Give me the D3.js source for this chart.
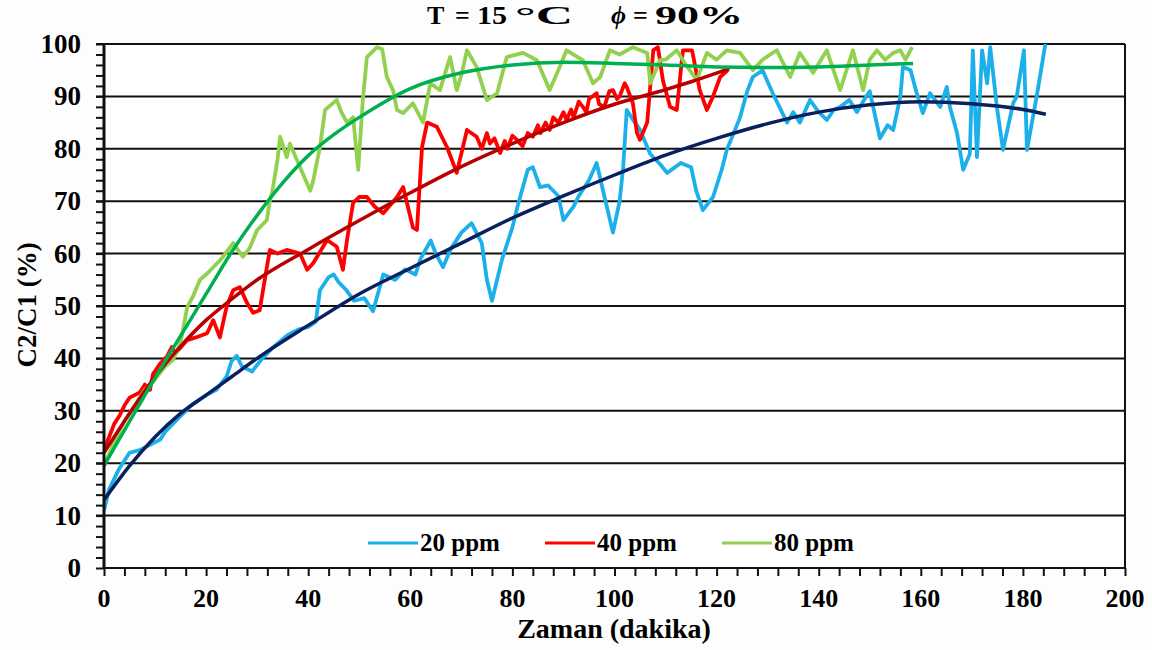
<!DOCTYPE html>
<html><head><meta charset="utf-8">
<script src="https://cdn.jsdelivr.net/npm/d3@7"></script>
<style>body{margin:0;background:#fff}svg{display:block}</style>
</head><body><svg id="c" width="1152" height="650" font-family="'Liberation Serif', 'Times New Roman', Tinos, serif" font-weight="bold"></svg>
<script>
// ---- data ----
const xTicks = [0,20,40,60,80,100,120,140,160,180,200];
const yTicks = [0,10,20,30,40,50,60,70,80,90,100];
const seriesNames = ["20 ppm","40 ppm","80 ppm"];

const t20 = [0,1,3,5,7,9,11,12,14,17,20,22,24,25,26,27,29,31,33,36,38,40,41.5,42.3,44,45,46,47.5,49,51,52.7,54.7,57,59,61,62,64,65,66.4,68,70,72,74,75,76,77,78,80,81,83,84,85.4,87,89,90,92,93,95,96.5,98,99.7,101,101.7,102.4,104,105,107,109,110.3,113,115,116,117.3,119.3,121,122,124.6,126,127.1,129,131,133.8,135,136.3,138.3,140,141.6,143,144.2,146,147.5,149,150,152,153.5,154.6,156,156.5,158,159.2,160.4,161.8,163.8,165.1,165.7,167.1,168.3,169.6,170.2,171,172,173,173.6,174.9,176.1,178.1,178.8,180.2,180.8,182.7,184.4];
const v20 = [11,15,19,22,22.5,23.5,24.5,26,28,31,33,34,36.5,39.5,40.5,38.5,37.5,40,42,44.5,45.5,46,47,53,55.5,56,54.5,53,51,51.5,49,56,55,57,56,59,62.5,60,57.4,61,64,65.8,62,55,51,55,59,65,69,76,76.5,72.7,73,71,66.4,69,71,74,77.3,71,64,70,76.5,87.4,85,83.6,79,77,75.4,77.3,76.5,72,68.3,70.8,76,79.8,86,91,93.7,95,90.6,85,87,85,89.3,87,85.5,87.5,88,89.3,87,89.5,91,82,84.5,83.6,90,95.6,95,90.6,86.8,90.6,88,91.8,88,83,76,79,98.8,78.4,98.8,92.5,99.4,88,79.8,88.7,90,98.8,79.8,90,100];

const t40 = [0,1,2,3,4,5,6,7,8,9,9.6,11,12.3,13.3,14,16.3,18,20.2,21.4,22.7,24,25.3,26.6,28,29.2,30.5,31.9,32.5,34,35.8,38.4,39.8,41,43.7,45.6,46.8,47.6,48.8,50,51.5,53,54.7,57.4,58.6,60.5,61.3,62.3,63.3,65.2,67.2,69.1,71.1,73,74,75,75.6,76.5,77.6,78.5,79,80,80.9,82,83,84,85,85.5,86.5,87.3,88,89,90,90.6,91.5,92,93,93.8,94.5,95,96.5,97,98,99,99.7,100.5,101,102,102.4,103.6,104.4,105,106.4,107.6,108.5,109.5,110.9,112.2,113.4,115.2,116.7,118.1,119.3,120.7,122.2];
const v40 = [22.5,25,27.5,29,31,32.5,33,33.5,35,34,37,39,40.3,42.2,41,43.5,44,44.8,47.3,44,49.8,53,53.6,50.6,48.7,49.2,57.4,60.7,60,60.7,60,56.9,58.2,62.6,61.3,56.9,62.6,69.7,70.8,70.8,69,67.7,70.8,72.7,65,64.5,80.3,85,84.2,80.3,75.4,83.6,82.3,80,83,81,82,79.2,81.5,80,82.5,81.7,80.5,83,82.3,84.5,83,85,83.6,86,85,87,85.5,87.5,86,89,88,87,89.5,90.6,88.5,88,91,91.2,89.5,90,92.5,91.8,88.7,83,81.7,85,98.8,99.4,93,88,87.4,98.8,98.8,91.2,87.4,90,93.7,95];

const t80 = [0,2,4,6,8,10,12,13.5,15,16.3,17.5,18.8,20,21.4,23,25.3,26,27.2,28.5,30,31.9,32.5,33,34,34.5,35.8,36.4,38.4,40.4,41,42.3,43.3,44,45.6,46.5,47.6,48.8,49.8,50.7,51.5,53.5,54.5,55.4,56.6,57.4,58.6,60.5,62.5,63.9,65.8,67.8,69.1,70,71.1,73,75,77,78.9,82.1,84.8,87.3,89,90.6,93.8,95.8,97.2,99.1,101,103.6,106.4,107,108.9,110,112.2,114,116.1,118.1,120,122,124.6,127.1,129,131.8,134.4,136.3,138.9,141.6,144.2,146.7,148.7,150,151.4,153,154.6,156,157,158.3];
const v80 = [19.5,24,28,31,34,36,38.5,39.7,43,49.8,52,55,56,57.4,59,62,61,59.4,61,64.5,66.4,70.2,72,78,82.3,78.4,81,76.5,72,74,80.3,87.4,88,89.3,87,85,86,76,89.3,97.5,99.4,99,93.7,91.2,87.4,86.8,88.7,85,92.5,91.2,97.5,91.2,94,98.8,95.6,89.3,90.6,97.5,98.3,96.9,91.2,95,98.8,96.9,92.5,93.7,98.8,98,99.4,98.3,92.5,96.9,97,98.8,96,93.1,98.3,97,98.8,98.3,95,97,98.8,93.7,98.3,94.5,98.8,91.2,98.8,91.2,97,98.8,97,98.3,98.8,97,99.4];

// fitted trend lines
const tFit20 = [0,5,10,15,20,25,30,40,50,60,70,80,90,100,110,120,130,140,150,160,170,180,184.5];
const vFit20 = [13,19.5,25,29.5,33,36.5,40,46.3,52.3,57.2,62,66.8,71,75,78.8,82,84.8,87,88.4,89,88.6,87.5,86.6];
const tFit40 = [0,5,10,15,20,25,30,40,50,60,70,80,90,100,110,115,122.5];
const vFit40 = [22,29.5,36.5,42.3,47.3,51.3,55,60.8,66.3,71.6,76.6,81,85,88.5,91.3,92.8,95.3];
const tFit80 = [0,5,10,15,20,25,30,35,40,45,50,60,70,80,90,100,110,120,130,140,150,158.5];
const vFit80 = [19.5,28,36.3,44.3,52.3,60.3,67.3,73.5,78.7,82.7,86,91.5,94.5,96,96.5,96.3,96,95.6,95.5,95.6,96,96.3];

const rawColors = ["#1cb0ea","#ff0000","#92d050"];
const fitColors = ["#0a1f5e","#b80000","#00b050"];

// ---- chart ----
const svg = d3.select("#c");
const L=104, R=1125, T=44, B=568;
const x = d3.scaleLinear().domain([0,200]).range([L,R]);
const y = d3.scaleLinear().domain([0,100]).range([B,T]);

svg.append("rect").attr("width",1152).attr("height",650).attr("fill","#fdfdfd");
svg.append("rect").attr("x",L).attr("y",T).attr("width",R-L).attr("height",B-T).attr("fill","#fff");

// gridlines
svg.append("g").selectAll("line").data(yTicks.filter(d=>d>0)).join("line")
  .attr("x1",L-8).attr("x2",R).attr("y1",d=>y(d)).attr("y2",d=>y(d))
  .attr("stroke","#111").attr("stroke-width",2);
svg.append("line").attr("x1",R).attr("x2",R).attr("y1",T).attr("y2",B).attr("stroke","#111").attr("stroke-width",2);

svg.append("defs").append("clipPath").attr("id","clip").append("rect")
  .attr("x",L).attr("y",T-2).attr("width",R-L).attr("height",B-T+2);

const line = d3.line().x(d=>x(d[0])).y(d=>y(d[1]));
const fitLine = d3.line().x(d=>x(d[0])).y(d=>y(d[1])).curve(d3.curveMonotoneX);
const plot = svg.append("g").attr("clip-path","url(#clip)");
const raws = [[t20,v20],[t40,v40],[t80,v80]];
const fits = [[tFit20,vFit20],[tFit40,vFit40],[tFit80,vFit80]];
[0,1,2].forEach(i=>{
  const [tt,vv]=raws[i];
  plot.append("path").datum(tt.map((t,k)=>[t,vv[k]])).attr("d",line)
    .attr("fill","none").attr("stroke",rawColors[i]).attr("stroke-width",3.8).attr("stroke-linejoin","round");
});
[0,1,2].forEach(i=>{
  const [tt,vv]=fits[i];
  plot.append("path").datum(tt.map((t,k)=>[t,vv[k]])).attr("d",fitLine)
    .attr("fill","none").attr("stroke",fitColors[i]).attr("stroke-width",3.5);
});

// axes
const xAxis = d3.axisBottom(x).tickValues(d3.range(0,201,4)).tickSize(8).tickFormat("");
const gx = svg.append("g").attr("transform",`translate(0,${B})`).call(xAxis);
gx.selectAll("path,line").attr("stroke","#111").attr("stroke-width",2);
gx.select(".domain").attr("d",`M${L},0H${R}`);
gx.selectAll("text").remove();
const fontFam = "'Liberation Serif', 'Times New Roman', serif";
svg.append("g").selectAll("text").data(xTicks).join("text")
  .attr("x",d=>x(d)).attr("y",607).attr("text-anchor","middle").attr("font-size",26)
  .attr("font-family",fontFam).attr("font-weight","bold").text(d=>d);

const yAxis = d3.axisLeft(y).tickValues(d3.range(0,101,2)).tickSize(8).tickFormat("");
const gy = svg.append("g").attr("transform",`translate(${L},0)`).call(yAxis);
gy.selectAll("path,line").attr("stroke","#111").attr("stroke-width",2);
gy.select(".domain").attr("d",`M0,${T}V${B}`).attr("stroke-width",3);
svg.append("g").selectAll("text").data(yTicks).join("text")
  .attr("x",81).attr("y",d=>y(d)+9).attr("text-anchor","end").attr("font-size",27)
  .attr("font-family",fontFam).attr("font-weight","bold").text(d=>d);

// title pieces
const titleParts = [["T",427,null,false],["=",455,null,false],["15",477,30,false],["°C",515,58,false],["ϕ",611,null,true],["=",633,null,false],["90%",655,88,false]];
titleParts.forEach(([s,px,len,it])=>{
  const tx = svg.append("text").attr("x",px).attr("y",24).attr("font-size",26)
    .attr("font-family",fontFam).attr("font-weight","bold").text(s);
  if(it) tx.attr("font-style","italic");
  if(len) tx.attr("textLength",len).attr("lengthAdjust","spacingAndGlyphs");
});
svg.append("text").attr("x",614).attr("y",638).attr("text-anchor","middle").attr("font-size",28)
  .attr("font-family",fontFam).attr("font-weight","bold").text("Zaman (dakika)");
svg.append("text").attr("transform","translate(36,305) rotate(-90)").attr("text-anchor","middle").attr("font-size",27)
  .attr("font-family",fontFam).attr("font-weight","bold").text("C2/C1 (%)");

// legend
const legX = [368,545,722];
seriesNames.forEach((n,i)=>{
  svg.append("line").attr("x1",legX[i]).attr("x2",legX[i]+50).attr("y1",543).attr("y2",543)
    .attr("stroke",rawColors[i]).attr("stroke-width",3);
  svg.append("text").attr("x",legX[i]+52).attr("y",551).attr("font-size",25)
    .attr("font-family",fontFam).attr("font-weight","bold").text(n);
});
</script></body></html>
